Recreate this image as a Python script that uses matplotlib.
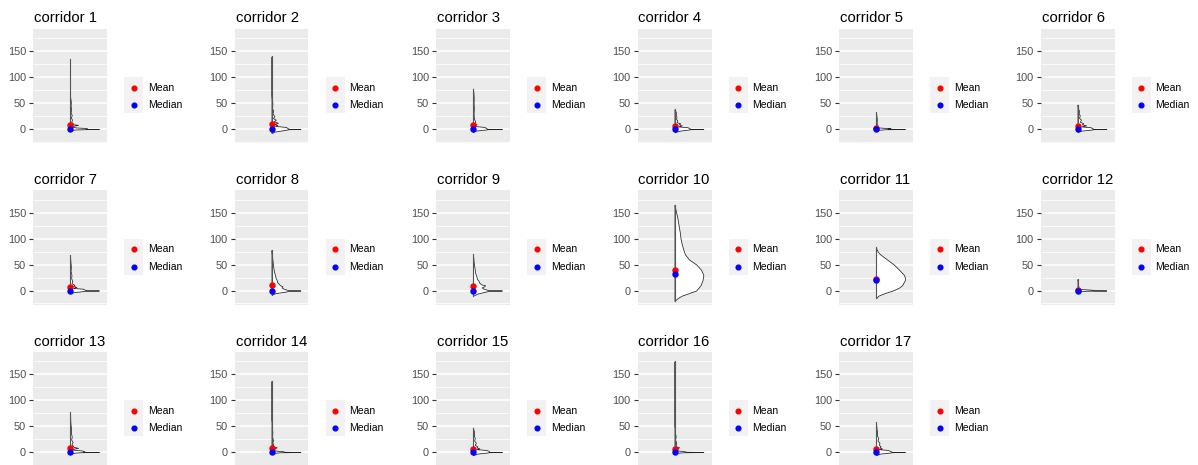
import matplotlib
matplotlib.use("Agg")
import matplotlib.pyplot as plt
from matplotlib.patches import Rectangle

plt.rcParams['font.family'] = ['Liberation Sans', 'DejaVu Sans']

# ---------------- data ----------------
corridors = [f"corridor {i}" for i in range(1, 18)]
means = [8, 10, 7, 5, 1, 5, 6, 10, 9, 40, 23, 0.5, 8, 8, 6, 6, 5]
medians = [0, 0, 0, 0, 0, 0, 0, 0, 0, 31, 20, 0, 0, 0, 0, 0, 0]
y_ticks = [0, 50, 100, 150]
legend_labels = ["Mean", "Median"]

# violin profiles: y values and relative half-widths
prof_y_01 = [-3, -1, -0.3, 0, 0.3, 1, 2, 3, 4.5, 6, 8, 9.5, 11, 14, 18, 22, 27, 32, 38, 45, 52, 60, 63, 135]
prof_w_01 = [0, 0.15, 0.55, 1.0, 0.55, 0.6, 0.55, 0.2, 0.08, 0.1, 0.28, 0.06, 0.1, 0.04, 0.07, 0.03, 0.06, 0.02, 0.04, 0.02, 0.03, 0.01, 0.003, 0.002]
prof_y_02 = [-8, -5, -2, -0.3, 0, 0.3, 2, 4, 6, 8, 10, 12, 15, 18, 21, 25, 30, 35, 40, 50, 60, 65, 140]
prof_w_02 = [0, 0.1, 0.45, 0.6, 1.0, 0.6, 0.55, 0.5, 0.12, 0.2, 0.1, 0.22, 0.08, 0.15, 0.05, 0.1, 0.03, 0.06, 0.02, 0.03, 0.01, 0.003, 0.002]
prof_y_03 = [-5, -3, -1, -0.3, 0, 0.3, 2, 4, 5.5, 7, 9, 11, 14, 20, 30, 40, 50, 60, 70, 78]
prof_w_03 = [0, 0.1, 0.45, 0.5, 1.0, 0.5, 0.45, 0.4, 0.1, 0.05, 0.12, 0.04, 0.08, 0.03, 0.02, 0.03, 0.02, 0.025, 0.015, 0]
prof_y_04 = [-6, -3, -1, -0.3, 0, 0.3, 2, 3.5, 5, 7, 9, 11, 13, 16, 20, 24, 28, 32, 36, 38]
prof_w_04 = [0, 0.2, 0.5, 0.55, 1.0, 0.55, 0.5, 0.45, 0.12, 0.25, 0.15, 0.2, 0.07, 0.1, 0.05, 0.07, 0.04, 0.05, 0.02, 0]
prof_y_05 = [-2, -0.5, 0, 0.5, 1.5, 3, 5, 8, 12, 18, 25, 33]
prof_w_05 = [0, 0.3, 1.0, 0.4, 0.5, 0.08, 0.04, 0.05, 0.02, 0.03, 0.015, 0]
prof_y_06 = [-5, -3, -1, -0.3, 0, 0.3, 2, 3.5, 5, 7, 9, 11, 14, 18, 22, 26, 30, 35, 40, 47]
prof_w_06 = [0, 0.15, 0.5, 0.55, 1.0, 0.55, 0.5, 0.45, 0.12, 0.3, 0.15, 0.2, 0.08, 0.12, 0.05, 0.08, 0.04, 0.05, 0.02, 0]
prof_y_07 = [-5, -3, -1, -0.3, 0, 0.3, 2, 3.5, 5, 7, 9, 11, 14, 18, 24, 30, 38, 46, 55, 68]
prof_w_07 = [0, 0.15, 0.5, 0.55, 1.0, 0.55, 0.5, 0.45, 0.1, 0.22, 0.1, 0.15, 0.05, 0.08, 0.04, 0.05, 0.02, 0.03, 0.015, 0]
prof_y_08 = [-8, -5, -2, -0.5, 0, 0.5, 2, 4, 6, 8, 10, 13, 16, 20, 25, 30, 38, 46, 55, 65, 78]
prof_w_08 = [0, 0.15, 0.5, 0.6, 1.0, 0.6, 0.5, 0.4, 0.35, 0.38, 0.3, 0.25, 0.2, 0.18, 0.14, 0.12, 0.08, 0.06, 0.04, 0.02, 0]
prof_y_09 = [-10, -6, -2, -0.5, 0, 0.5, 2, 4, 6, 8, 10, 12, 15, 18, 22, 27, 33, 40, 48, 56, 70]
prof_w_09 = [0, 0.15, 0.45, 0.55, 1.0, 0.55, 0.45, 0.35, 0.3, 0.38, 0.42, 0.28, 0.22, 0.2, 0.14, 0.12, 0.08, 0.06, 0.04, 0.02, 0]
prof_y_10 = [-20, -15, -10, -5, 0, 10, 20, 30, 40, 50, 60, 70, 80, 90, 100, 110, 120, 130, 140, 150, 160, 165]
prof_w_10 = [0, 0.1, 0.25, 0.5, 0.75, 0.9, 0.97, 1.0, 0.92, 0.76, 0.5, 0.36, 0.3, 0.25, 0.21, 0.19, 0.16, 0.13, 0.1, 0.06, 0.02, 0]
prof_y_11 = [-15, -10, -5, 0, 5, 10, 20, 25, 30, 40, 50, 60, 70, 75, 80, 83]
prof_w_11 = [0, 0.08, 0.3, 0.58, 0.78, 0.9, 1.0, 1.0, 0.97, 0.8, 0.62, 0.38, 0.14, 0.06, 0.02, 0]
prof_y_12 = [-2, -0.5, 0, 0.5, 1.5, 3, 5, 8, 12, 17, 22]
prof_w_12 = [0, 0.3, 1.0, 0.55, 0.5, 0.05, 0.02, 0.03, 0.015, 0.02, 0]
prof_y_13 = [-3, -1, -0.3, 0, 0.3, 1.5, 3, 4.5, 6, 8, 10, 12, 15, 19, 24, 30, 37, 45, 52, 60, 77]
prof_w_13 = [0, 0.2, 0.45, 1.0, 0.45, 0.5, 0.4, 0.1, 0.08, 0.28, 0.12, 0.1, 0.05, 0.09, 0.04, 0.06, 0.03, 0.04, 0.02, 0.01, 0.002]
prof_y_14 = [-2, -0.5, 0, 0.5, 1.5, 3, 5, 7, 9, 11, 14, 18, 23, 30, 38, 46, 55, 62, 137]
prof_w_14 = [0, 0.3, 1.0, 0.45, 0.4, 0.1, 0.05, 0.1, 0.18, 0.05, 0.06, 0.03, 0.05, 0.02, 0.03, 0.015, 0.02, 0.003, 0.002]
prof_y_15 = [-6, -3, -1, -0.3, 0, 0.3, 2, 4, 5.5, 7, 9, 11, 14, 18, 22, 27, 32, 38, 43, 47]
prof_w_15 = [0, 0.15, 0.5, 0.55, 1.0, 0.55, 0.55, 0.45, 0.1, 0.22, 0.12, 0.15, 0.06, 0.1, 0.04, 0.06, 0.03, 0.04, 0.015, 0]
prof_y_16 = [-2, -0.5, 0, 0.5, 1.5, 3, 5, 7, 9, 11, 14, 18, 24, 30, 38, 45, 50, 175]
prof_w_16 = [0, 0.3, 1.0, 0.4, 0.35, 0.08, 0.05, 0.08, 0.16, 0.05, 0.04, 0.06, 0.02, 0.04, 0.015, 0.02, 0.003, 0.002]
prof_y_17 = [-6, -3, -1, -0.3, 0, 0.3, 2, 4, 5.5, 7, 9, 11, 14, 18, 22, 27, 32, 38, 44, 57]
prof_w_17 = [0, 0.15, 0.5, 0.55, 1.0, 0.55, 0.5, 0.4, 0.1, 0.2, 0.12, 0.16, 0.1, 0.12, 0.05, 0.08, 0.03, 0.04, 0.02, 0]

profiles_y = [prof_y_01, prof_y_02, prof_y_03, prof_y_04, prof_y_05, prof_y_06,
              prof_y_07, prof_y_08, prof_y_09, prof_y_10, prof_y_11, prof_y_12,
              prof_y_13, prof_y_14, prof_y_15, prof_y_16, prof_y_17]
profiles_w = [prof_w_01, prof_w_02, prof_w_03, prof_w_04, prof_w_05, prof_w_06,
              prof_w_07, prof_w_08, prof_w_09, prof_w_10, prof_w_11, prof_w_12,
              prof_w_13, prof_w_14, prof_w_15, prof_w_16, prof_w_17]

# ---------------- layout ----------------
W, H = 1198, 465
fig = plt.figure(figsize=(W / 100, H / 100), dpi=100)
fig.patch.set_facecolor('white')

PW, PH = 74, 114
COL0, COLSTEP = 33, 201.5
ROW0, ROWSTEP = 29, 161.5
HALF_W = 0.39
YLIM = (-27, 193)


def fx(px):
    return px / W


def fy(py):
    return 1 - py / H


for i, name in enumerate(corridors):
    r, c = divmod(i, 6)
    left = COL0 + COLSTEP * c
    top = ROW0 + ROWSTEP * r
    ax = fig.add_axes([fx(left), fy(top + PH), PW / W, PH / H])
    ax.set_facecolor('#EBEBEB')
    ax.set_xlim(0, 1)
    ax.set_ylim(*YLIM)
    ax.set_yticks(y_ticks)
    ax.set_yticks([-25, 25, 75, 125, 175], minor=True)
    ax.set_xticks([])
    ax.grid(True, which='major', axis='y', color='white', lw=1.1)
    ax.grid(True, which='minor', axis='y', color='white', lw=0.55)
    ax.set_axisbelow(True)
    for s in ax.spines.values():
        s.set_visible(False)
    ax.tick_params(axis='y', which='major', length=3, width=0.8, color='#333333',
                   labelsize=7.8, labelcolor='#4D4D4D', pad=2)
    ax.tick_params(axis='y', which='minor', length=0)

    ys = profiles_y[i]
    ws = [0.5 + HALF_W * w for w in profiles_w[i]]
    ax.fill_betweenx(ys, 0.5, ws, facecolor='white', edgecolor='#222222', lw=0.55, zorder=3)
    ax.plot([0.5, 0.5], [min(ys), max(ys)], color='#555555', lw=0.8, zorder=3.5)

    ax.plot([0.5], [means[i]], 'o', color='red', ms=3.6, zorder=4)
    ax.plot([0.5], [medians[i]], 'o', color='blue', ms=3.6, zorder=5)

    fig.text(fx(left + 1), fy(top - 6.5), name, fontsize=10.7, color='black',
             ha='left', va='baseline')

    # legend
    kx0, ky0 = left + 91, top + 48
    fig.add_artist(Rectangle((fx(kx0), fy(ky0 + 36)), 19 / W, 36 / H,
                             transform=fig.transFigure, facecolor='#F2F2F2',
                             edgecolor='none'))
    for k, (lab, col) in enumerate(zip(legend_labels, ['red', 'blue'])):
        yy = top + 58.5 + 17.5 * k
        fig.add_artist(plt.Line2D([fx(kx0 + 9.5)], [fy(yy)], marker='o', ms=3.4,
                                  color=col, transform=fig.transFigure, lw=0))
        fig.text(fx(left + 115), fy(yy), lab, fontsize=7.5, color='black',
                 ha='left', va='center')

fig.savefig('out.png', dpi=100)
